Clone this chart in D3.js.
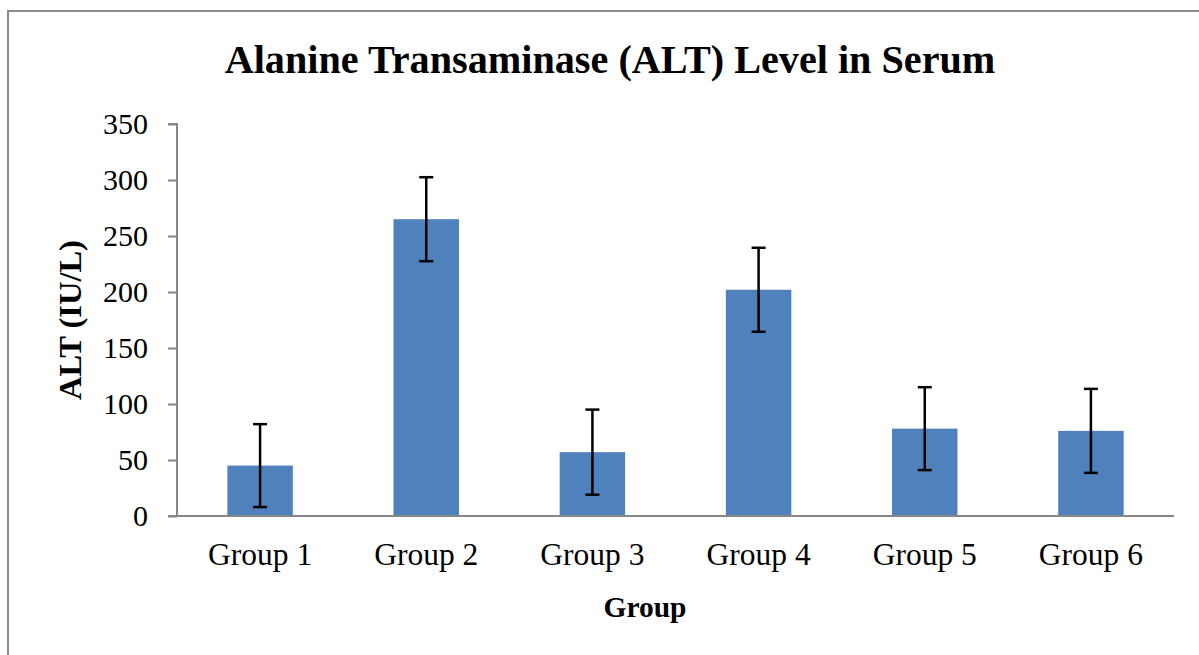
<!DOCTYPE html>
<html>
<head>
<meta charset="utf-8">
<script src="https://cdn.jsdelivr.net/npm/d3@7"></script>
<style>
  html, body { margin: 0; padding: 0; background: #fff; }
  svg { display: block; }
  text { font-family: "Liberation Serif", "Times New Roman", serif; fill: #000; }
</style>
</head>
<body>
<svg id="chart" width="1199" height="655"></svg>
<script>
const categories = ["Group 1", "Group 2", "Group 3", "Group 4", "Group 5", "Group 6"];
const altValues = [45, 265, 57, 202, 78, 76];
const altErrors = [37, 37.5, 38, 37.5, 37, 37.5];
const yTicks = [0, 50, 100, 150, 200, 250, 300, 350];
const title = "Alanine Transaminase (ALT) Level in Serum";
const xTitle = "Group";
const yTitle = "ALT (IU/L)";

const svg = d3.select("#chart");
const W = 1199, H = 655;
const margin = { left: 177, right: 25, top: 124, bottom: 139 };
const plotW = W - margin.left - margin.right;
const plotH = H - margin.top - margin.bottom;

// outer frame (top & left visible)
svg.append("rect")
  .attr("x", 8).attr("y", 11)
  .attr("width", 1200).attr("height", 700)
  .attr("fill", "none").attr("stroke", "#8c8c8c").attr("stroke-width", 2);

const g = svg.append("g").attr("transform", `translate(${margin.left},${margin.top})`);

const x = d3.scaleBand().domain(categories).range([0, plotW]).paddingInner(0.606).paddingOuter(0.303);
const y = d3.scaleLinear().domain([0, 350]).range([plotH, 0]);

// bars
g.selectAll("rect.bar").data(categories).join("rect")
  .attr("class", "bar")
  .attr("x", d => x(d))
  .attr("y", (d, i) => y(altValues[i]))
  .attr("width", x.bandwidth())
  .attr("height", (d, i) => y(0) - y(altValues[i]))
  .attr("fill", "#4f81bd");

// y axis
const yAxis = d3.axisLeft(y).tickValues(yTicks).tickSize(9).tickPadding(20).tickFormat(d3.format("d"));
const yg = g.append("g").call(yAxis);
yg.select(".domain").attr("stroke", "#868686").attr("stroke-width", 2).attr("d", `M-9,${y(350)}H0V${y(0)}`);
yg.selectAll(".tick line").attr("stroke", "#868686").attr("stroke-width", 2);
yg.selectAll(".tick text").attr("font-size", 30).attr("font-family", "Liberation Serif, Times New Roman, serif").attr("fill", "#000");

// x axis
const xAxis = d3.axisBottom(x).tickSize(0).tickPadding(27);
const xg = g.append("g").attr("transform", `translate(0,${plotH})`).call(xAxis);
xg.select(".domain").attr("stroke", "#868686").attr("stroke-width", 2).attr("d", `M-9,0H${plotW}`);
xg.selectAll(".tick text").attr("font-size", 31.5).attr("font-family", "Liberation Serif, Times New Roman, serif").attr("fill", "#000");

// error bars
const eb = g.selectAll("g.err").data(categories).join("g").attr("class", "err");
const cx = d => x(d) + x.bandwidth() / 2;
eb.append("line")
  .attr("x1", cx).attr("x2", cx)
  .attr("y1", (d, i) => y(altValues[i] + altErrors[i]))
  .attr("y2", (d, i) => y(altValues[i] - altErrors[i]))
  .attr("stroke", "#000").attr("stroke-width", 2.5);
[1, -1].forEach(s => {
  eb.append("line")
    .attr("x1", d => cx(d) - 7).attr("x2", d => cx(d) + 7)
    .attr("y1", (d, i) => y(altValues[i] + s * altErrors[i]))
    .attr("y2", (d, i) => y(altValues[i] + s * altErrors[i]))
    .attr("stroke", "#000").attr("stroke-width", 2.5);
});

// title
svg.append("text")
  .attr("x", 610).attr("y", 73)
  .attr("text-anchor", "middle")
  .attr("font-size", 40.2).attr("font-weight", "bold")
  .text(title);

// x title
svg.append("text")
  .attr("x", 645).attr("y", 617)
  .attr("text-anchor", "middle")
  .attr("font-size", 29.5).attr("font-weight", "bold")
  .text(xTitle);

// y title
svg.append("text")
  .attr("transform", "translate(81,320) rotate(-90)")
  .attr("text-anchor", "middle")
  .attr("font-size", 32.5).attr("font-weight", "bold")
  .text(yTitle);
</script>
</body>
</html>
